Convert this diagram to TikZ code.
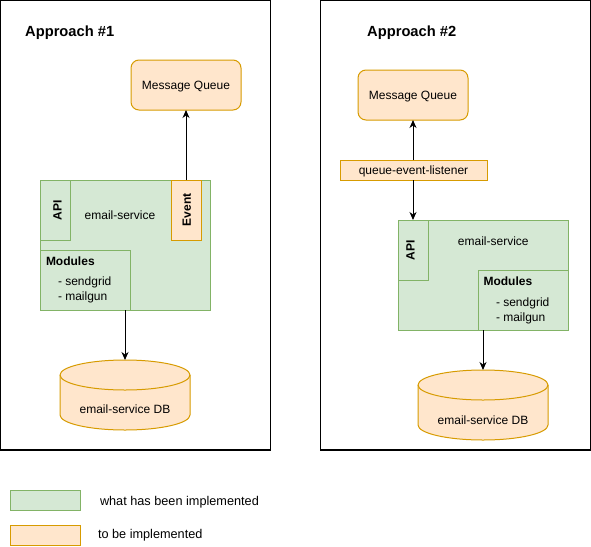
\documentclass[tikz,border=0pt]{standalone}
\usepackage{fontspec}
\setmainfont{Liberation Sans}
\usetikzlibrary{arrows.meta}
\definecolor{gfill}{HTML}{D5E8D4}
\definecolor{gline}{HTML}{82B366}
\definecolor{ofill}{HTML}{FFE6CC}
\definecolor{oline}{HTML}{D79B00}
\tikzset{
  frame/.style={draw=black, line width=1.2pt, inner sep=0pt, outer sep=0pt},
  greenbox/.style={draw=gline, fill=gfill, line width=1pt, inner sep=0pt, outer sep=0pt},
  orangebox/.style={draw=oline, fill=ofill, line width=1pt, inner sep=0pt, outer sep=0pt},
  txt/.style={font=\fontsize{12pt}{14pt}\selectfont, inner sep=0pt, outer sep=0pt, anchor=base},
  ltxt/.style={txt, anchor=base west},
  btxt/.style={font=\fontsize{12pt}{14pt}\selectfont\bfseries, inner sep=0pt, outer sep=0pt},
  legtxt/.style={font=\fontsize{12.7pt}{14pt}\selectfont, inner sep=0pt, outer sep=0pt, anchor=base west},
  title/.style={font=\fontsize{14.7pt}{17pt}\selectfont\bfseries, inner sep=0pt, anchor=base west},
  conn/.style={draw=black, line width=1pt, -{Stealth[length=8pt,width=7pt,inset=2.5pt]}},
  db/.style={draw=oline, fill=ofill, line width=1pt}
}
\newcommand{\dbcyl}[4]{% name, center x, top y, bottom y (tikz coords)
  \path[db] (#2-65,#3-15) arc[start angle=180,end angle=0,x radius=65,y radius=15]
     -- (#2+65,#4+15) arc[start angle=0,end angle=-180,x radius=65,y radius=15] -- cycle;
  \draw[draw=oline, line width=1pt] (#2-65,#3-15) arc[start angle=180,end angle=360,x radius=65,y radius=15];
  \coordinate (#1top) at (#2,#3);
}
\begin{document}
\begin{tikzpicture}[x=1pt,y=1pt]
\useasboundingbox (0,0) rectangle (591,-546);
% frames
\node[frame, minimum width=270pt, minimum height=450pt] (f1) at (135.5,-225) {};
\node[frame, minimum width=270pt, minimum height=450pt] (f2) at (455.5,-225) {};
\node[title] (t1) at (25,-36) {Approach \#1};
\node[title] (t2) at (367,-36) {Approach \#2};

% ---- Approach 1
\node[orangebox, rounded corners=8pt, minimum width=110pt, minimum height=50pt] (mq1) at (186,-85) {};
\node[txt] (mq1t) at (186,-89) {Message Queue};
\node[greenbox, minimum width=170pt, minimum height=130pt] (es1) at (125,-245) {};
\node[greenbox, minimum width=30pt, minimum height=60pt] (api1) at (55,-210) {};
\node[btxt, rotate=90] (api1t) at (57.5,-210.5) {API};
\node[orangebox, minimum width=30pt, minimum height=60pt] (ev1) at (186,-210) {};
\node[btxt, rotate=90] (ev1t) at (186.7,-210) {Event};
\node[txt] (es1t) at (120,-219) {email-service};
\node[greenbox, minimum width=90pt, minimum height=60pt] (mod1) at (85,-280) {};
\node[btxt, anchor=base west] (mod1a) at (46,-265) {Modules};
\node[ltxt] (mod1b) at (58,-285) {- sendgrid};
\node[ltxt] (mod1c) at (58,-300.5) {- mailgun};
\dbcyl{db1}{125}{-360}{-430}
\node[txt] (db1t) at (125,-413) {email-service DB};
\draw[conn] (ev1.north) -- (mq1.south);
\draw[conn] (es1.south) -- (db1top);

% ---- Approach 2
\node[orangebox, rounded corners=8pt, minimum width=110pt, minimum height=50pt] (mq2) at (413,-95) {};
\node[txt] (mq2t) at (413,-99) {Message Queue};
\node[orangebox, minimum width=147pt, minimum height=20pt] (ql) at (413.5,-170) {};
\node[txt] (qlt) at (413.5,-174) {queue-event-listener};
\node[greenbox, minimum width=170pt, minimum height=110pt] (es2) at (483,-275) {};
\node[greenbox, minimum width=30pt, minimum height=60pt] (api2) at (413,-250) {};
\node[btxt, rotate=90] (api2t) at (410.5,-250) {API};
\node[txt] (es2t) at (493.3,-245.5) {email-service};
\node[greenbox, minimum width=90pt, minimum height=60pt] (mod2) at (523,-300) {};
\node[btxt, anchor=base west] (mod2a) at (483.5,-285) {Modules};
\node[ltxt] (mod2b) at (496,-306) {- sendgrid};
\node[ltxt] (mod2c) at (496,-321.5) {- mailgun};
\dbcyl{db2}{483}{-370}{-440}
\node[txt] (db2t) at (483,-424) {email-service DB};
\draw[conn] (ql.north -| mq2.south) -- (mq2.south);
\draw[conn] (ql.south -| api2.north) -- (api2.north);
\draw[conn] (es2.south) -- (db2top);

% ---- Legend
\node[greenbox, minimum width=70pt, minimum height=20pt] (lg) at (45,-500) {};
\node[legtxt] (lgt) at (100,-505) {what has been implemented};
\node[orangebox, minimum width=70pt, minimum height=20pt] (lo) at (45,-535) {};
\node[legtxt] (lot) at (98,-538) {to be implemented};
\end{tikzpicture}
\end{document}
